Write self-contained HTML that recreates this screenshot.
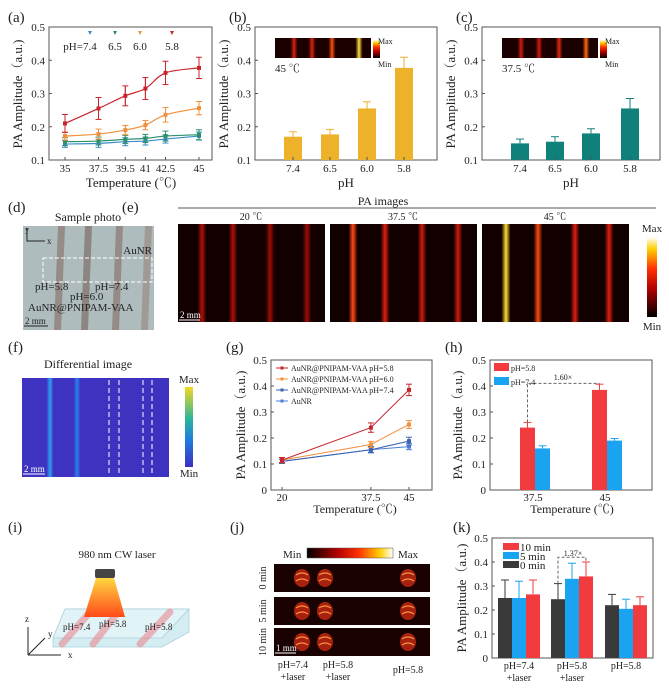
<!DOCTYPE html>
<html><head><meta charset="utf-8"><style>
html,body{margin:0;padding:0;background:#fff;}
svg{display:block;font-family:"Liberation Serif","Noto Serif CJK SC",serif;}
</style></head><body>
<svg id="fig" width="669" height="688" viewBox="0 0 669 688" xmlns="http://www.w3.org/2000/svg">
<defs>
<linearGradient id="hot" x1="0" y1="0" x2="1" y2="0"><stop offset="0" stop-color="#000"/><stop offset="0.35" stop-color="#b00000"/><stop offset="0.6" stop-color="#ff3000"/><stop offset="0.85" stop-color="#ffd000"/><stop offset="1" stop-color="#fff"/></linearGradient>
<linearGradient id="hotv" x1="0" y1="1" x2="0" y2="0"><stop offset="0" stop-color="#000"/><stop offset="0.35" stop-color="#b00000"/><stop offset="0.6" stop-color="#ff3000"/><stop offset="0.85" stop-color="#ffd000"/><stop offset="1" stop-color="#fff"/></linearGradient>
<linearGradient id="vir" x1="0" y1="1" x2="0" y2="0"><stop offset="0" stop-color="#3b2fc0"/><stop offset="0.35" stop-color="#1f7fe0"/><stop offset="0.6" stop-color="#2bb59a"/><stop offset="1" stop-color="#f5d820"/></linearGradient>
<linearGradient id="beam" x1="0" y1="0" x2="0" y2="1"><stop offset="0" stop-color="#ffd640"/><stop offset="1" stop-color="#ff4a1a"/></linearGradient>
</defs>
<g id="root"></g>
</svg>
<script>
// ---------- data ----------
const aTemps=[35,37.5,39.5,41,42.5,45];
const aTickLabels=["35","37.5","39.5","41","42.5","45"];
const aPh58=[0.21,0.255,0.293,0.315,0.362,0.377];
const aPh58Err=[0.027,0.033,0.03,0.033,0.035,0.032];
const aPh60=[0.172,0.178,0.19,0.205,0.236,0.256];
const aPh60Err=[0.012,0.015,0.014,0.014,0.022,0.02];
const aPh65=[0.155,0.157,0.162,0.165,0.172,0.176];
const aPh65Err=[0.012,0.012,0.012,0.012,0.015,0.015];
const aPh74=[0.148,0.15,0.155,0.157,0.163,0.172];
const aPh74Err=[0.01,0.012,0.012,0.012,0.012,0.012];
const phCats=["7.4","6.5","6.0","5.8"];
const bVals=[0.17,0.177,0.255,0.377];
const bErr=[0.015,0.015,0.02,0.032];
const cVals=[0.15,0.155,0.18,0.255];
const cErr=[0.013,0.015,0.014,0.03];
const yTicks01=[0.1,0.2,0.3,0.4,0.5];
const gTemps=[20,37.5,45];
const gPh58=[0.115,0.24,0.385];
const gPh58Err=[0.01,0.018,0.022];
const gPh60=[0.115,0.175,0.252];
const gPh60Err=[0.01,0.012,0.015];
const gPh74=[0.11,0.155,0.188];
const gPh74Err=[0.008,0.012,0.015];
const gAuNR=[0.11,0.155,0.167];
const gAuNRErr=[0.008,0.01,0.012];
const gXTicks=["20","37.5","45"];
const yTicks0=[0,0.1,0.2,0.3,0.4,0.5];
const hCats=["37.5","45"];
const hPh58=[0.24,0.385];
const hPh58Err=[0.02,0.022];
const hPh74=[0.16,0.19];
const hPh74Err=[0.01,0.008];
const kCats=[["pH=7.4","+laser"],["pH=5.8","+laser"],["pH=5.8",""]];
const k0min=[0.25,0.245,0.22];
const k0Err=[0.075,0.065,0.045];
const k5min=[0.25,0.33,0.205];
const k5Err=[0.07,0.065,0.04];
const k10min=[0.265,0.34,0.22];
const k10Err=[0.06,0.06,0.035];

// ---------- helpers ----------
const NS="http://www.w3.org/2000/svg";
const root=document.getElementById('root');
function el(tag,attrs,parent){const e=document.createElementNS(NS,tag);for(const k in attrs)e.setAttribute(k,attrs[k]);(parent||root).appendChild(e);return e;}
function txt(s,x,y,size,anchor,parent,extra){const t=el('text',Object.assign({x:x,y:y,'font-size':size,'text-anchor':anchor||'start',fill:'#222'},extra||{}),parent);t.textContent=s;return t;}
function lin(d0,d1,r0,r1){return v=>r0+(v-d0)/(d1-d0)*(r1-r0);}
function frame(g,x0,y0,x1,y1){const r=el('rect',{x:x0,y:y0,width:x1-x0,height:y1-y0,fill:'none',stroke:'#555','stroke-width':1},g);}
function yAxis(g,ticks,y,x0,fmt,size){ticks.forEach(v=>{el('line',{x1:x0,x2:x0+3,y1:y(v),y2:y(v),stroke:'#555'},g);const t=txt(fmt(v),x0-4,y(v)+4,size||11,'end',g);});}
function errbar(g,x,yv,ye,col,w){el('line',{x1:x,x2:x,y1:yv,y2:ye,stroke:col,'stroke-width':1},g);el('line',{x1:x-w,x2:x+w,y1:ye,y2:ye,stroke:col,'stroke-width':1},g);}
function smoothPath(pts){let d='M'+pts[0][0]+','+pts[0][1];for(let i=0;i<pts.length-1;i++){const p0=pts[i-1]||pts[i],p1=pts[i],p2=pts[i+1],p3=pts[i+2]||p2;const c1=[p1[0]+(p2[0]-p0[0])/6,p1[1]+(p2[1]-p0[1])/6],c2=[p2[0]-(p3[0]-p1[0])/6,p2[1]-(p3[1]-p1[1])/6];d+=' C'+c1+' '+c2+' '+p2;}return d;}
function ylabel(g,x,y,s){const t=txt(s,x,y,13,'middle',g,{transform:'rotate(-90 '+x+' '+y+')'});}
function panelLabel(s,x,y){const t=txt(s,x,y,15,'start');}
let sgId=0;
function stripes(g,xs,cols,y0,h,w){xs.forEach((x,i)=>{const gid='sg'+(sgId++);const lg=el('linearGradient',{id:gid,x1:0,y1:0,x2:1,y2:0},document.querySelector('defs'));el('stop',{offset:0,'stop-color':cols[i],'stop-opacity':0},lg);el('stop',{offset:0.5,'stop-color':cols[i],'stop-opacity':1},lg);el('stop',{offset:1,'stop-color':cols[i],'stop-opacity':0},lg);el('rect',{x:x-w/2,y:y0,width:w,height:h,fill:'url(#'+gid+')'},g);});}

// ---------- panel a ----------
(function(){
const g=el('g',{});
panelLabel('(a)',8,22);
const X0=49,X1=212,Y0=27,Y1=160;
const x=lin(35,45,65,199),y=lin(0.1,0.5,Y1,Y0);
frame(g,X0,Y0,X1,Y1);
yAxis(g,yTicks01,y,X0,v=>v.toFixed(1));
aTemps.forEach((t,i)=>{el('line',{x1:x(t),x2:x(t),y1:Y1,y2:Y1-3,stroke:'#555'},g);const l=txt(aTickLabels[i],x(t),Y1+12,11,'middle',g);});
const xt=txt('Temperature (℃)',131,187,13,'middle',g);
ylabel(g,22,94,'PA Amplitude（a.u.)');
const series=[[aPh74,aPh74Err,'#3a8fc8','ph74'],[aPh65,aPh65Err,'#2e8f6a','ph65'],[aPh60,aPh60Err,'#f0903c','ph60'],[aPh58,aPh58Err,'#c8242c','ph58']];
series.forEach(s=>{const pts=aTemps.map((t,i)=>[x(t),y(s[0][i])]);const p=el('path',{d:smoothPath(pts),fill:'none',stroke:s[2],'stroke-width':1.2},g);
aTemps.forEach((t,i)=>{errbar(g,x(t),y(s[0][i]-s[1][i]),y(s[0][i]+s[1][i]),s[2],3);errbar(g,x(t),y(s[0][i]+s[1][i]),y(s[0][i]-s[1][i]),s[2],3);const m=el('rect',{x:x(t)-2,y:y(s[0][i])-2,width:4,height:4,fill:s[2]},g);});});
const lg=[[90,'#3a8fc8','pH=7.4',80],[115,'#2e8f6a','6.5',115],[140,'#f0903c','6.0',140],[172,'#c8242c','5.8',172]];
lg.forEach(l=>{const m=el('polygon',{points:(l[0]-2)+',31 '+(l[0]+2)+',31 '+l[0]+',35',fill:l[1]},g);const t=txt(l[2],l[3],50,11,'middle',g);});
})();

// ---------- bar panels b, c ----------
function barPanel(name,lbl,X0,X1,xs,vals,errs,col,temp){
const g=el('g',{});
panelLabel(lbl,X0-26,22);
const Y0=27,Y1=160,y=lin(0.1,0.5,Y1,Y0);
frame(g,X0,Y0,X1,Y1);
yAxis(g,yTicks01,y,X0,v=>v.toFixed(1));
vals.forEach((v,i)=>{const cx=xs[i];const b=el('rect',{x:cx-9,y:y(v),width:18,height:Y1-y(v),fill:col},g);errbar(g,cx,y(v),y(v+errs[i]),col,4);
el('line',{x1:cx,x2:cx,y1:Y1,y2:Y1-3,stroke:'#555'},g);const t=txt(phCats[i],cx,Y1+12,11,'middle',g);});
const xt=txt('pH',(X0+X1)/2,187,13,'middle',g);
ylabel(g,X0-27,94,'PA Amplitude（a.u.)');
const ix=X0+20;const ins=el('g',{},g);
el('rect',{x:ix,y:38,width:96,height:20,fill:'#1c0000'},ins);
stripes(ins,[ix+19,ix+37,ix+57,ix+84],temp==='45'?['#e02010','#e02010','#ff5010','#ffe040']:['#d01a10','#d01a10','#e02a10','#ff6a10'],38,20,7);
el('rect',{x:ix+98,y:40,width:7,height:18,fill:'url(#hotv)'},ins);
txt('Max',ix+103,44,8,'start',ins);txt('Min',ix+103,67,8,'start',ins);
txt(temp+' ℃',ix,72,11,'start',ins);
}
barPanel('panel-b-bar-chart','(b)',255,437,[293,330,367,404],bVals,bErr,'#edb12a','45');
barPanel('panel-c-bar-chart','(c)',482,660,[520,555,591,630],cVals,cErr,'#0f807a','37.5');

// ---------- panel d photo ----------
(function(){
const g=el('g',{});
panelLabel('(d)',8,212);
txt('Sample photo',88,221,12,'middle',g);
el('rect',{x:23,y:226,width:131,height:104,fill:'#aebcbe'},g);
[[60,'#8a7870'],[87,'#7d6e68'],[118,'#8a7870'],[147,'#9a8c84']].forEach(s=>{el('polygon',{points:(s[0]-2)+',226 '+(s[0]+5)+',226 '+(s[0]+1)+',330 '+(s[0]-6)+',330',fill:s[1],opacity:0.7},g);});
el('rect',{x:43,y:258,width:109,height:24,fill:'none',stroke:'#fff','stroke-dasharray':'4,2'},g);
el('path',{d:'M27,228 V241 H45',fill:'none',stroke:'#222'},g);txt('x',47,244,9,'start',g);txt('y',25,232,8,'start',g);
txt('AuNR',152,254,11,'end',g);txt('pH=5.8',35,290,11,'start',g);txt('pH=7.4',95,290,11,'start',g);txt('pH=6.0',70,300,11,'start',g);txt('AuNR@PNIPAM-VAA',28,311,11,'start',g);
txt('2 mm',25,324,9,'start',g);el('line',{x1:24,x2:48,y1:326,y2:326,stroke:'#222'},g);
})();

// ---------- panel e ----------
(function(){
const g=el('g',{});
panelLabel('(e)',122,212);
txt('PA images',383,205,12,'middle',g);el('line',{x1:178,x2:656,y1:208,y2:208,stroke:'#555'},g);
const imgs=[[178,'20 ℃',[202,233,270,307],['#b01008','#b01008','#a00c06','#a00c06']],[330,'37.5 ℃',[353,385,422,458],['#ff4a10','#e02010','#d01a10','#d01a10']],[482,'45 ℃',[506,538,575,609],['#ffe030','#ff4a10','#e02010','#e02010']]];
imgs.forEach(m=>{el('rect',{x:m[0],y:224,width:147,height:98,fill:'#120000'},g);stripes(g,m[2],m[3],224,98,9);txt(m[1],m[0]+73,220,10,'middle',g);});
txt('2 mm',180,318,9,'start',g,{fill:'#fff'});el('line',{x1:179,x2:200,y1:320,y2:320,stroke:'#fff'},g);
el('rect',{x:647,y:237,width:10,height:80,fill:'url(#hotv)'},g);txt('Max',652,232,11,'middle',g);txt('Min',652,330,11,'middle',g);
})();

// ---------- panel f ----------
(function(){
const g=el('g',{});
panelLabel('(f)',8,352);
txt('Differential image',88,368,12,'middle',g);
el('rect',{x:22,y:378,width:147,height:99,fill:'#3d33c0'},g);
stripes(g,[50,77],['#2fa0f0','#2a80f0'],378,99,7);
[109,119,143,152].forEach(x=>el('line',{x1:x,x2:x,y1:380,y2:476,stroke:'#fff','stroke-dasharray':'5,3'},g));
txt('2 mm',24,472,9,'start',g,{fill:'#fff'});el('line',{x1:23,x2:45,y1:474,y2:474,stroke:'#fff'},g);
el('rect',{x:185,y:387,width:8,height:80,fill:'url(#vir)'},g);txt('Max',189,383,11,'middle',g);txt('Min',189,477,11,'middle',g);
})();

// ---------- panel g ----------
(function(){
const g=el('g',{});
panelLabel('(g)',226,352);
const X0=271,X1=432,Y0=360,Y1=490,x=lin(20,45,282,409),y=lin(0,0.5,Y1,Y0);
frame(g,X0,Y0,X1,Y1);
yAxis(g,yTicks0,y,X0,v=>v===0?'0':v.toFixed(1));
gTemps.forEach((t,i)=>{el('line',{x1:x(t),x2:x(t),y1:Y1,y2:Y1-3,stroke:'#555'},g);const l=txt(gXTicks[i],x(t),Y1+11,11,'middle',g);});
const xt=txt('Temperature (℃)',355,513,12,'middle',g);
ylabel(g,245,425,'PA Amplitude（a.u.)');
const ser=[[gAuNR,gAuNRErr,'#4a7fd8','AuNR'],[gPh74,gPh74Err,'#3a62b0','AuNR@PNIPAM-VAA  pH=7.4'],[gPh60,gPh60Err,'#f0903c','AuNR@PNIPAM-VAA  pH=6.0'],[gPh58,gPh58Err,'#c8242c','AuNR@PNIPAM-VAA  pH=5.8']];
ser.forEach(s=>{const pts=gTemps.map((t,i)=>x(t)+','+y(s[0][i])).join(' ');const p=el('polyline',{points:pts,fill:'none',stroke:s[2],'stroke-width':1},g);
gTemps.forEach((t,i)=>{errbar(g,x(t),y(s[0][i]),y(s[0][i]+s[1][i]),s[2],3);errbar(g,x(t),y(s[0][i]),y(s[0][i]-s[1][i]),s[2],3);const m=el('rect',{x:x(t)-2,y:y(s[0][i])-2,width:4,height:4,fill:s[2]},g);});});
[3,2,1,0].forEach((k,j)=>{const s=ser[k];const ly=368+j*11;el('line',{x1:276,x2:288,y1:ly,y2:ly,stroke:s[2]},g);el('rect',{x:280.5,y:ly-1.5,width:3,height:3,fill:s[2]},g);const t=txt(s[3],291,ly+3,8,'start',g);});
})();

// ---------- panel h ----------
(function(){
const g=el('g',{});
panelLabel('(h)',445,352);
const X0=490,X1=652,Y0=360,Y1=490,y=lin(0,0.5,Y1,Y0);const cx=[535,607];
frame(g,X0,Y0,X1,Y1);
yAxis(g,yTicks0,y,X0,v=>v===0?'0':v.toFixed(1));
hCats.forEach((c,i)=>{const r=el('rect',{x:cx[i]-15,y:y(hPh58[i]),width:15,height:Y1-y(hPh58[i]),fill:'#f23b3f'},g);errbar(g,cx[i]-7.5,y(hPh58[i]),y(hPh58[i]+hPh58Err[i]),'#f23b3f',4);
const b=el('rect',{x:cx[i],y:y(hPh74[i]),width:15,height:Y1-y(hPh74[i]),fill:'#1aa3f0'},g);errbar(g,cx[i]+7.5,y(hPh74[i]),y(hPh74[i]+hPh74Err[i]),'#1aa3f0',4);
const t=txt(c,cx[i]-2,Y1+11,11,'middle',g);});
el('path',{d:'M'+(cx[0]-7.5)+','+y(hPh58[0]+hPh58Err[0])+' V'+y(0.41)+' H'+(cx[1]-7.5),fill:'none',stroke:'#666','stroke-dasharray':'3,2'},g);
txt('1.60×',563,380,8,'middle',g);
el('rect',{x:494,y:363,width:15,height:8,fill:'#f23b3f'},g);txt('pH=5.8',511,371,8,'start',g);
el('rect',{x:494,y:377,width:15,height:8,fill:'#1aa3f0'},g);txt('pH=7.4',511,385,8,'start',g);
const xt=txt('Temperature (℃)',572,513,12,'middle',g);
ylabel(g,462,425,'PA Amplitude（a.u.)');
})();

// ---------- panel i ----------
(function(){
const g=el('g',{});
panelLabel('(i)',8,532);
txt('980 nm CW laser',117,558,11,'middle',g);
el('polygon',{points:'65,609 189,609 189,632 162,647 53,647 53,638',fill:'#d4edf3',stroke:'#a8d0dc','stroke-width':0.8},g);
el('polygon',{points:'65,609 189,609 162,638 53,638',fill:'#e2f3f7',stroke:'#a8d0dc','stroke-width':0.8},g);
[[62,644,90,612],[93,644,118,612],[140,644,170,612]].forEach(s=>el('line',{x1:s[0],y1:s[1],x2:s[2],y2:s[3],stroke:'#e88a90','stroke-width':7,opacity:0.6,'stroke-linecap':'round'},g));
el('polygon',{points:'96,578 114,578 125,617 84,617',fill:'url(#beam)'},g);
el('rect',{x:95,y:569,width:20,height:9,rx:2,fill:'#444'},g);
txt('pH=7.4',63,630,9,'start',g);txt('pH=5.8',99,627,9,'start',g);txt('pH=5.8',145,630,9,'start',g);
el('path',{d:'M28,655 V627 M28,655 L45,638 M28,655 H61',fill:'none',stroke:'#222'},g);
txt('z',27,622,9,'middle',g);txt('y',48,637,9,'start',g);txt('x',68,658,9,'start',g);
})();

// ---------- panel j ----------
(function(){
const g=el('g',{});
panelLabel('(j)',230,532);
txt('Min',283,558,11,'start',g);el('rect',{x:307,y:548,width:86,height:10,fill:'url(#hot)',stroke:'#555','stroke-width':0.5},g);txt('Max',398,558,11,'start',g);
const rows=[[564,'0 min'],[597,'5 min'],[628,'10 min']];
rows.forEach(r=>{el('rect',{x:274,y:r[0],width:156,height:28,fill:'#1a0202'},g);[302,325,408].forEach(bx=>{el('ellipse',{cx:bx,cy:r[0]+14,rx:8,ry:9,fill:'#c02810',opacity:0.85},g);el('path',{d:'M'+(bx-6)+','+(r[0]+11)+' q6,-4 12,0 M'+(bx-6)+','+(r[0]+17)+' q6,-4 12,0',stroke:'#ff9040','fill':'none','stroke-width':1.2},g);});
txt(r[1],266,r[0]+14,10,'middle',g,{transform:'rotate(-90 266 '+(r[0]+14)+')'});});
txt('1 mm',276,651,9,'start',g,{fill:'#fff'});el('line',{x1:275,x2:296,y1:653,y2:653,stroke:'#fff'},g);
txt('pH=7.4',293,668,10,'middle',g);txt('+laser',293,680,10,'middle',g);txt('pH=5.8',338,668,10,'middle',g);txt('+laser',338,680,10,'middle',g);txt('pH=5.8',408,673,10,'middle',g);
})();

// ---------- panel k ----------
(function(){
const g=el('g',{});
panelLabel('(k)',453,532);
const X0=492,X1=653,Y0=538,Y1=658,y=lin(0,0.5,Y1,Y0);const gx=[519,572,626];
frame(g,X0,Y0,X1,Y1);
yAxis(g,yTicks0,y,X0,v=>v===0?'0':v.toFixed(1));
const ser=[[k0min,k0Err,'#3a3a3a','0min',-14],[k5min,k5Err,'#1aa3f0','5min',0],[k10min,k10Err,'#f23b3f','10min',14]];
kCats.forEach((c,i)=>{ser.forEach(s=>{const bx=gx[i]+s[4]-7;const b=el('rect',{x:bx,y:y(s[0][i]),width:14,height:Y1-y(s[0][i]),fill:s[2]},g);errbar(g,bx+7,y(s[0][i]),y(s[0][i]+s[1][i]),s[2],4);});
const t=txt(c[0],gx[i],Y1+11,10,'middle',g);if(c[1])txt(c[1],gx[i],Y1+23,10,'middle',g);});
el('path',{d:'M'+(gx[1]-14)+','+y(k0min[1]+k0Err[1])+' V'+y(0.42)+' H'+(gx[1]+14)+' V'+y(k10min[1]+k10Err[1]),fill:'none',stroke:'#666','stroke-dasharray':'3,2'},g);
txt('1.37×',573,556,8,'middle',g);
[['10 min','#f23b3f',543],['5  min','#1aa3f0',552],['0  min','#3a3a3a',561]].forEach(l=>{el('rect',{x:503,y:l[2],width:16,height:7,fill:l[1]},g);const t=txt(l[0],520,l[2]+8,11,'start',g);});
ylabel(g,466,598,'PA Amplitude（a.u.)');
})();
</script>
</body></html>
